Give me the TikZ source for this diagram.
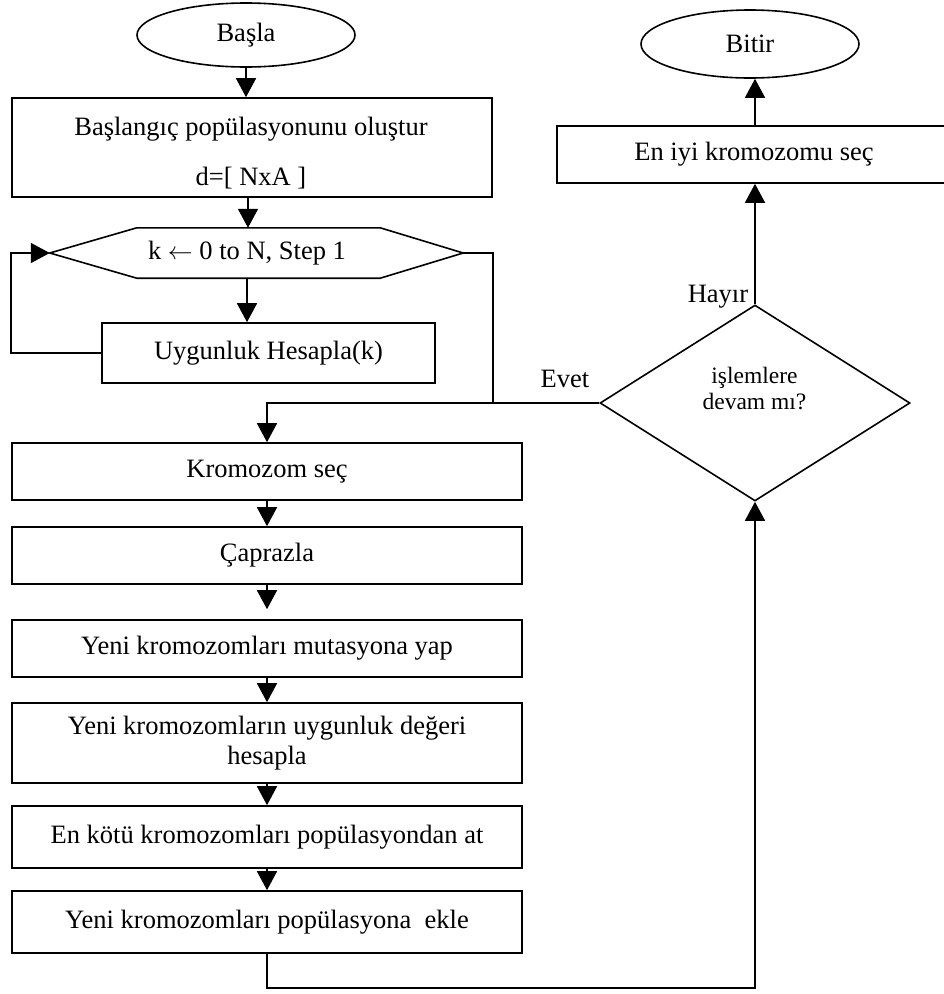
\documentclass[tikz,border=0pt]{standalone}
\usepackage{fontspec}
\setmainfont{Liberation Serif}
\usetikzlibrary{arrows.meta,shapes.geometric,calc}
\begin{document}
\begin{tikzpicture}[x=1pt,y=-1pt,
  every node/.style={font=\fontsize{26.5}{30}\selectfont, inner sep=0pt},
  ln/.style={line width=1.6pt},
  arr/.style={line width=1.6pt, -{Triangle[length=19pt,width=20pt]}},
  proc/.style={draw, rectangle, line width=1.6pt, align=center},
  term/.style={draw, ellipse, line width=1.6pt},
  decis/.style={draw, diamond, line width=1.6pt},
  lbl/.style={anchor=base}]
\useasboundingbox (0,0) rectangle (944,994);

% terminals
\node[term, minimum width=218pt, minimum height=64pt] (start) at (246,35) {Başla};
\node[term, minimum width=218pt, minimum height=68pt] (end) at (750,44) {Bitir};

% initialisation
\node[proc, minimum width=480pt, minimum height=99pt] (init) at (252,147.5) {};
\node[align=center] (inittxt) at (251,153) {Başlangıç popülasyonunu oluştur\\[20pt]d=[ NxA ]};

% loop hexagon
\node[minimum width=413pt, minimum height=50pt] (hex) at (256.5,253) {};
\draw[ln] (hex.west) -- ([xshift=87pt]hex.north west) -- ([xshift=-83pt]hex.north east)
  -- (hex.east) -- ([xshift=-83pt]hex.south east) -- ([xshift=87pt]hex.south west) -- cycle;
\node (hextxt) at (247,253) {k $\leftarrow$ 0 to N, Step 1};

\node[proc, minimum width=333pt, minimum height=60pt] (fit) at (268.5,353) {Uygunluk Hesapla(k)};

% main column
\node[proc, minimum width=510pt, minimum height=57pt] (sel) at (267,471.5) {Kromozom seç};
\node[proc, minimum width=510pt, minimum height=57pt] (cross) at (267,555.5) {Çaprazla};
\node[proc, minimum width=510pt, minimum height=57pt] (mut) at (267,648.5) {Yeni kromozomları mutasyona yap};
\node[proc, minimum width=510pt, minimum height=80pt] (eval) at (267,743) {Yeni kromozomların uygunluk değeri\\hesapla};
\node[proc, minimum width=510pt, minimum height=62pt] (del) at (267,837) {En kötü kromozomları popülasyondan at};
\node[proc, minimum width=510pt, minimum height=62pt] (add) at (267,922) {Yeni kromozomları popülasyona\ \ ekle};

% decision
\node[decis, minimum width=310pt, minimum height=196pt] (dec) at (755,403) {};
\node[align=center, font=\fontsize{23.5}{26}\selectfont] (dectxt) at (754.5,389) {işlemlere\\devam mı?};

\node[proc, minimum width=394pt, minimum height=57pt] (best) at (754,154.5) {En iyi kromozomu seç};

% labels
\node[lbl] (evet) at (565,387) {Evet};
\node[lbl] (hayir) at (718,302) {Hayır};

% connectors
\draw[arr] (start.south) -- (start.south |- init.north);
\draw[arr] ([xshift=-4pt]init.south) -- ([xshift=-4pt]init.south |- hex.north);
\draw[arr] (hextxt.south |- hex.south) -- (hextxt.south |- fit.north);
\draw[arr] (fit.west) -| (init.west |- hex.west) -- (hex.west);
\draw[ln] (hex.east) -| (init.east |- dec.west);
\draw[arr] (dec.west) -| (sel.north);
\draw[arr] (sel) -- (cross);
\draw[arr, shorten >=10pt] (cross) -- (mut);
\draw[arr] (mut) -- (eval);
\draw[arr] (eval) -- (del);
\draw[arr] (del) -- (add);
\coordinate (bot) at (755,988);
\draw[arr] (add.south) |- (bot) -- (dec.south);
\draw[arr] (dec.north) -- (dec.north |- best.south);
\draw[arr] (dec.north |- best.north) -- (dec.north |- end.south);
\end{tikzpicture}
\end{document}
